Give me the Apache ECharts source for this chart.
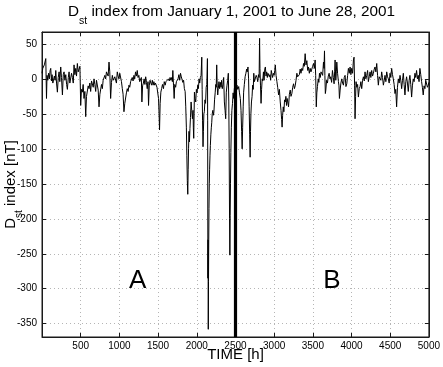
<!DOCTYPE html>
<html><head><meta charset="utf-8">
<script src="https://cdn.jsdelivr.net/npm/echarts@6/dist/echarts.min.js"></script>
<style>html,body{margin:0;padding:0;background:#fff}#c{width:443px;height:367px}</style>
</head><body><div id="c"></div>
<script>
// ---- data: [hour, Dst nT] ----
const seg0 = [[0,8],[10,15],[20,14],[30,20],[40,22],[49,29],[58,-28],[65,5],[75,-2],[85,8],[95,0],[105,12],[113,15],[122,-3],[130,6],[140,-6],[150,-8],[160,4],[170,-2],[178,12],[188,-6],[199,-19],[210,2],[221,10],[230,-4],[242,17],[252,2],[264,-23],[275,6],[285,10],[296,-2],[307,6],[318,-8],[328,-15],[340,2],[350,10],[360,-6],[371,-4],[382,8],[393,2],[404,-6],[414,20],[425,6],[436,15],[446,4],[457,22],[468,10],[479,14],[490,18]];
const seg500 = [[500,-38],[510,-15],[522,-19],[532,-8],[543,-28],[554,-18],[565,-54],[575,-25],[586,-23],[597,-10],[608,-14],[618,-6],[629,-18],[640,-3],[651,-4],[662,-12],[672,0],[683,-8],[694,-18],[704,-2],[715,-4],[726,-16],[737,-40],[748,-22],[758,-23],[769,-8],[780,-14],[790,-2],[801,-4],[812,5],[823,0],[833,10],[844,10],[855,4],[866,24],[876,10],[887,-28],[898,-5],[909,5],[920,-2],[930,-4],[941,3],[952,3],[962,-6],[973,10],[984,4],[995,0]];
const seg1000 = [[1005,8],[1016,8],[1027,-4],[1038,-14],[1048,-22],[1059,-47],[1070,-35],[1080,-33],[1091,-20],[1102,-14],[1113,-18],[1124,-9],[1134,-12],[1145,-4],[1156,-6],[1166,2],[1177,-3],[1188,5],[1198,0],[1209,10],[1220,4],[1231,12],[1241,2],[1252,5],[1263,-4],[1274,-4],[1284,2],[1291,-33],[1300,-10],[1310,-6],[1320,0],[1330,-8],[1340,3],[1350,-5],[1360,-14],[1370,-4],[1377,-38],[1386,-10],[1396,-2],[1406,0],[1416,-9],[1426,-2],[1436,-9],[1446,-4],[1456,-9],[1466,-6],[1476,-4],[1486,-12],[1496,-10]];
const seg1500 = [[1506,-28],[1513,-50],[1519,-73],[1527,-35],[1536,-19],[1546,-14],[1557,-8],[1570,-14],[1580,-4],[1592,-9],[1602,-4],[1613,-2],[1623,-6],[1634,0],[1645,-3],[1655,2],[1666,-2],[1677,2],[1685,-4],[1691,12],[1700,-10],[1708,-28],[1716,-8],[1727,-12],[1737,-4],[1748,-6],[1758,0],[1769,6],[1780,-2],[1790,8],[1798,4],[1810,6],[1820,-5],[1830,-2],[1840,-14],[1850,-18],[1858,-40],[1866,-70],[1872,-110],[1878,-145],[1884,-165],[1889,-130],[1894,-100],[1900,-75],[1906,-90],[1912,-71],[1919,-55],[1927,-33],[1935,-45],[1944,-57],[1952,-45],[1956,-70],[1961,-85],[1966,-50],[1970,-19],[1978,-28],[1987,-33],[1995,-15]];
const seg2000 = [[2004,-20],[2013,-9],[2021,-14],[2030,0],[2038,-6],[2047,2],[2056,5],[2065,31],[2070,-15],[2075,-60],[2081,-97],[2086,-75],[2092,-50],[2098,-47],[2106,-30],[2114,-35],[2122,-12],[2130,-8],[2138,29],[2141,-60],[2144,-285],[2146,-230],[2149,-358],[2152,-290],[2155,-230],[2158,-185],[2162,-150],[2166,-130],[2171,-110],[2176,-95],[2182,-80],[2188,-70],[2194,-62],[2200,-50],[2208,-45],[2216,-52],[2222,-47],[2230,-30],[2238,-20],[2246,-8],[2252,-12],[2258,20],[2264,-10],[2271,-23],[2278,-14],[2287,-4],[2296,-14],[2305,-5],[2314,-12],[2322,-2],[2330,-14],[2340,-8],[2348,2],[2357,-33],[2366,-45],[2374,-57],[2382,-19],[2390,-10],[2400,-2],[2408,8],[2414,-33],[2419,-100],[2424,-200],[2428,-252],[2432,-195],[2436,-150],[2441,-105],[2447,-70],[2454,-45],[2462,-35],[2470,-20],[2478,-28],[2486,-14],[2494,-10]];
const seg2500 = [[2502,-5],[2510,-12],[2520,-9],[2530,-15],[2542,-11],[2552,-20],[2563,-28],[2572,-45],[2580,-75],[2587,-100],[2593,-70],[2600,-40],[2606,-19],[2615,-8],[2625,3],[2635,8],[2645,14],[2652,10],[2662,17],[2670,0],[2677,-40],[2684,-80],[2690,-112],[2695,-75],[2700,-50],[2707,-33],[2715,-25],[2722,-9],[2730,-15],[2737,8],[2745,-4],[2752,-6],[2760,-2],[2768,5],[2778,2],[2788,-4],[2798,6],[2806,2],[2812,58],[2817,15],[2824,-10],[2831,-35],[2838,-15],[2846,0],[2853,-3],[2862,10],[2870,-2],[2879,14],[2887,17],[2895,4],[2904,10],[2912,2],[2920,8],[2929,10],[2938,3],[2946,6],[2955,-2],[2963,12],[2972,14],[2980,2],[2990,8]];
const seg3000 = [[3000,5],[3008,12],[3015,20],[3025,5],[3036,-4],[3046,-12],[3058,-23],[3068,-15],[3079,-33],[3089,-45],[3097,-58],[3103,-69],[3110,-52],[3118,-40],[3126,-47],[3135,-30],[3144,-33],[3152,-25],[3160,-38],[3168,-28],[3176,-33],[3186,-40],[3197,-22],[3208,-16],[3218,-25],[3229,-21],[3240,-12],[3251,-7],[3262,-14],[3272,-10],[3283,-2],[3294,8],[3304,3],[3315,3],[3326,6],[3337,14],[3347,8],[3358,15],[3369,12],[3380,22],[3390,18],[3401,36],[3412,20],[3423,26],[3434,12],[3444,17],[3455,8],[3466,15],[3476,10],[3487,14],[3498,18]];
const seg3500 = [[3509,22],[3520,15],[3530,27],[3537,5],[3545,-40],[3552,-20],[3560,-11],[3570,0],[3578,-5],[3586,8],[3596,2],[3606,10],[3616,12],[3627,5],[3638,24],[3645,15],[3651,40],[3656,5],[3662,-21],[3668,-16],[3678,-2],[3689,-6],[3700,4],[3711,8],[3722,0],[3732,3],[3743,-5],[3754,12],[3765,2],[3775,-7],[3782,10],[3788,27],[3797,-2],[3804,10],[3810,24],[3820,8],[3831,-4],[3838,-10],[3844,-28],[3853,-16],[3863,-6],[3874,0],[3885,-6],[3896,-9],[3906,2],[3917,5],[3928,-11],[3939,-7],[3950,5],[3960,15],[3971,8],[3982,17],[3992,6]];
const seg4000 = [[4003,15],[4014,8],[4025,27],[4033,31],[4040,-10],[4046,-57],[4053,-25],[4059,-4],[4068,-12],[4079,-8],[4089,-26],[4100,-14],[4111,-11],[4121,-4],[4132,-14],[4143,-2],[4154,3],[4165,-3],[4175,10],[4186,0],[4197,5],[4208,12],[4218,-4],[4229,3],[4240,10],[4250,2],[4261,12],[4272,4],[4283,8],[4294,14],[4304,17],[4315,10],[4326,22],[4337,5],[4347,-9],[4358,3],[4369,5],[4380,-2],[4390,10],[4401,2],[4412,-9],[4423,-2],[4433,5],[4444,-4],[4455,10],[4466,3],[4476,0],[4487,-6],[4498,8]];
const seg4500 = [[4508,2],[4519,15],[4530,6],[4540,0],[4551,-8],[4562,-21],[4572,-15],[4583,-40],[4594,-12],[4605,0],[4616,-6],[4627,5],[4638,-3],[4648,-14],[4659,-2],[4670,8],[4680,-8],[4691,-23],[4702,-4],[4712,3],[4723,-6],[4734,-18],[4745,-2],[4755,5],[4766,-8],[4777,-26],[4787,-10],[4798,0],[4809,-4],[4820,8],[4830,2],[4841,12],[4852,0],[4863,5],[4873,-4],[4884,15],[4895,6],[4906,-4],[4916,-12],[4927,-23],[4938,-10],[4949,-14],[4959,-2],[4970,-4],[4981,-12],[4992,-9],[5000,-5]];

const yTickValues = [-350,-300,-250,-200,-150,-100,-50,0,50];
const xMin = 0, xMax = 5000, xStep = 500;
const yMin = -369, yMax = 67;
const dividerHour = 2500;
const regionLabels = [[1235,-289,'A'],[3748,-289,'B']];
const titleParts = ['D','st',' index from January 1, 2001 to June 28, 2001'];
const yNameParts = ['D','st',' index [nT]'];
const xName = 'TIME [h]';

const dstSeries = [].concat(seg0,seg500,seg1000,seg1500,seg2000,seg2500,seg3000,seg3500,seg4000,seg4500);

// ---- layout ----
const FONT = '"Liberation Sans", Arial, Helvetica, sans-serif';
const ctx = document.createElement('canvas').getContext('2d');
function tw(t, s){ ctx.font = s + 'px ' + FONT; return ctx.measureText(t).width; }
const G = {left:42, top:32, width:387, height:305};
const axisColor = '#1a1a1a';

function txt(t, x, y, size, align){
  return {type:'text', x:x, y:y, silent:true, z:100,
    style:{text:t, x:0, y:0, font:size+'px '+FONT, fill:'#000',
      align:align||'left', verticalAlign:'middle', textAlign:align||'left', textVerticalAlign:'middle'}};
}
// title
const TS = 15.3;
const tD = tw(titleParts[0],TS), tS = tw(titleParts[1],10.5);
const tx0 = 68;
const titleEls = [
  txt(titleParts[0], tx0, 12.2, TS),
  txt(titleParts[1], tx0 + tD, 21, 10.5),
  txt(titleParts[2], tx0 + tD + tS, 12.2, TS)
];
// y name (rotated)
const yD = tw(yNameParts[0],15), yS = tw(yNameParts[1],10), yR = tw(yNameParts[2],15);
const yW = yD + yS + yR;
const yGroup = {type:'group', x:0, y: G.top + G.height/2 + yW/2, rotation: Math.PI/2, children:[
  txt(yNameParts[0], 0, 10.5, 15),
  txt(yNameParts[1], yD, 19.3, 10),
  txt(yNameParts[2], yD + yS, 10.5, 15)
]};
const xW = tw(xName,15);
const xEl = txt(xName, G.left + G.width/2 - xW/2, 355, 15);

const chart = echarts.init(document.getElementById('c'), null, {renderer:'canvas'});
const commonX = {type:'value', min:xMin, max:xMax, interval:xStep,
  axisLine:{show:true, onZero:false, lineStyle:{color:axisColor, width:1}},
  axisTick:{show:true, inside:true, length:4, lineStyle:{color:axisColor}}};
const commonY = {type:'value', min:yMin, max:yMax,
  axisLine:{show:true, onZero:false, lineStyle:{color:axisColor, width:1}},
  axisTick:{show:true, inside:true, length:4, customValues:yTickValues, lineStyle:{color:axisColor}}};
chart.setOption({
  animation:false,
  backgroundColor:'#fff',
  grid:{left:G.left, top:G.top, width:G.width, height:G.height, show:true,
        borderColor:axisColor, borderWidth:1, backgroundColor:'transparent'},
  xAxis:[
    Object.assign({}, commonX, {position:'bottom',
      axisLabel:{show:true, margin:4, fontSize:10, fontFamily:FONT, color:'#000',
        formatter:v => v === 0 ? '' : String(v)},
      splitLine:{show:true, lineStyle:{color:'#b5b5b5', type:[1,3], width:1}}}),
    Object.assign({}, commonX, {position:'top', axisLabel:{show:false}, splitLine:{show:false}})
  ],
  yAxis:[
    Object.assign({}, commonY, {position:'left',
      axisLabel:{show:true, margin:5, fontSize:10, fontFamily:FONT, color:'#000', customValues:yTickValues},
      splitLine:{show:true, lineStyle:{color:'#b5b5b5', type:[1,3], width:1}}}),
    Object.assign({}, commonY, {position:'right', axisLabel:{show:false}, splitLine:{show:false}})
  ],
  series:[
    {type:'line', data:dstSeries, xAxisIndex:0, yAxisIndex:0, showSymbol:false, symbol:'none',
     lineStyle:{color:'#000', width:1}, sampling:null, silent:true,
     markLine:{silent:true, symbol:['none','none'], label:{show:false},
       lineStyle:{color:'#000', width:3.2, type:'solid'}, data:[{xAxis:dividerHour}]}}
  ]
});
// region letters placed through the axes' scales
const letterEls = regionLabels.map(r => {
  const p = chart.convertToPixel({xAxisIndex:0, yAxisIndex:0}, [r[0], r[1]]);
  return txt(r[2], p[0], p[1], 26, 'center');
});
chart.setOption({graphic: titleEls.concat([yGroup, xEl], letterEls)});
</script></body></html>
